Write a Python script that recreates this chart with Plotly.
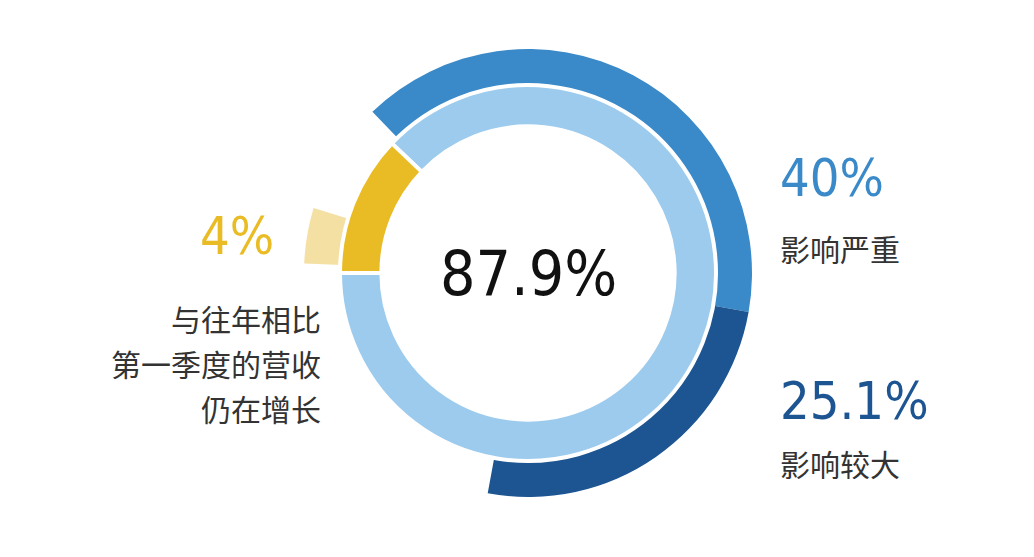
import plotly.graph_objects as go

# outer ring: shares of respondents (blank parts are gaps)
outer_labels = ["影响严重", "影响较大", "gap1", "增长", "gap2"]
outer_values = [40, 25.1, 22.8, 4, 8.1]
outer_colors = ["#3a89c9", "#1c5592", "rgba(0,0,0,0)", "#f5e0a3", "rgba(0,0,0,0)"]

inner_labels = ["受影响", "未受影响"]
inner_values = [87.9, 12.1]
inner_colors = ["#9ccbee", "#e9bb24"]

W, H = 1034, 557
cx, cy = 520, 265

def dom(r):
    return dict(x=[(cx - r) / W, (cx + r) / W], y=[(H - cy - r) / H, (H - cy + r) / H])

fig = go.Figure()
fig.add_trace(go.Pie(values=outer_values, labels=outer_labels, hole=0.83, sort=False,
                     direction="clockwise", rotation=-44, domain=dom(224),
                     marker=dict(colors=outer_colors), textinfo="none", hoverinfo="skip"))
fig.add_trace(go.Pie(values=inner_values, labels=inner_labels, hole=0.78, sort=False,
                     direction="clockwise", rotation=-46.4, domain=dom(188),
                     marker=dict(colors=inner_colors, line=dict(color="white", width=4)),
                     textinfo="none", hoverinfo="skip"))

num_font = "DejaVu Sans Condensed, DejaVu Sans"
cn_font = "Noto Sans CJK SC"
notes = [
    (cx, cy, "87.9%", num_font, 62, "#111111", "center"),
    (770, 170, "40%", num_font, 52, "#3a89c9", "left"),
    (770, 240, "影响严重", cn_font, 30, "#333333", "left"),
    (770, 393, "25.1%", num_font, 52, "#1c5592", "left"),
    (770, 455, "影响较大", cn_font, 30, "#333333", "left"),
    (268, 228, "4%", num_font, 52, "#e9bb24", "right"),
    (315, 310, "与往年相比", cn_font, 30, "#333333", "right"),
    (315, 355, "第一季度的营收", cn_font, 30, "#333333", "right"),
    (315, 400, "仍在增长", cn_font, 30, "#333333", "right"),
]
for x, y, t, f, s, c, a in notes:
    fig.add_annotation(x=x / W, y=1 - y / H, xref="paper", yref="paper", text=t,
                       showarrow=False, xanchor=a, yanchor="middle",
                       font=dict(family=f, size=s, color=c))

fig.update_layout(width=W, height=H, margin=dict(l=0, r=0, t=0, b=0),
                  showlegend=False, paper_bgcolor="white")
fig.write_html("out.html")
